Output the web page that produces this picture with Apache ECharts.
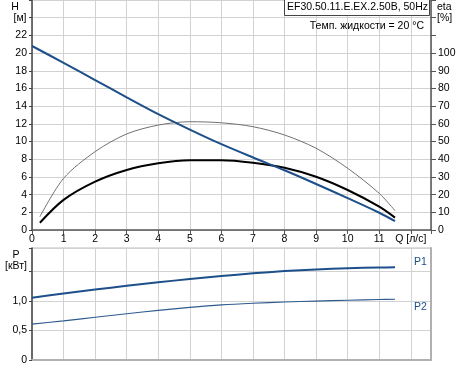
<!DOCTYPE html>
<html><head><meta charset="utf-8">
<script src="https://cdn.jsdelivr.net/npm/echarts@6/dist/echarts.min.js"></script>
<style>html,body{margin:0;padding:0;background:#fff}#c{width:459px;height:369px}</style>
</head><body><div id="c"></div>
<script>
// Flow Q [l/s]
var qH   = [0, 1, 2, 3, 4, 5, 6, 7, 8, 9, 10, 11, 11.5];
var headH = [20.8, 18.9, 16.95, 15.0, 13.1, 11.35, 9.7, 8.2, 6.75, 5.2, 3.6, 1.95, 1.0];
var qEta = [0.25, 1, 2, 3, 4, 5, 6, 7, 8, 9, 10, 11, 11.5];
var etaHyd = [7.5, 29.2, 44.3, 54.3, 59.3, 61.2, 60.6, 58.4, 53.7, 46.2, 34.9, 20.7, 10.9];
var etaTot = [4.1, 17.0, 27.3, 33.9, 37.7, 39.4, 39.4, 38.0, 35.2, 30.1, 22.6, 13.2, 7.0];
var qP = [0, 1, 2, 3, 4, 5, 6, 7, 8, 9, 10, 11, 11.5];
var p1 = [1.056, 1.128, 1.195, 1.258, 1.318, 1.374, 1.425, 1.470, 1.508, 1.537, 1.557, 1.569, 1.572];
var p2 = [0.61, 0.665, 0.725, 0.785, 0.842, 0.893, 0.935, 0.963, 0.984, 1.0, 1.014, 1.026, 1.031];
var xTicks = [0,1,2,3,4,5,6,7,8,9,10,11,'Q [л/с]'];
var hTicks = [0,2,4,6,8,10,12,14,16,18,20,22];
var etaTicks = [0,10,20,30,40,50,60,70,80,90,100];
var pTicks = {'0':'0','0.5':'0,5','1':'1,0'};

function zip(a,b){return a.map(function(v,i){return [v,b[i]];});}
var F = 'Liberation Sans, Arial, sans-serif';
var FS = 10.5;
var lab = {fontFamily:F, fontSize:FS, color:'#000'};
var gridLine = {show:true, lineStyle:{color:'#d2d2d2', width:1}};
var XMAX = 12.64;
var SM = 0.3;

var chart = echarts.init(document.getElementById('c'), null, {renderer:'canvas'});
chart.setOption({
  animation:false,
  grid:[
    {left:32, top:0, width:399, height:230},
    {left:32, top:248, width:399, height:112, show:true, borderColor:'#bdbdbd', borderWidth:1}
  ],
  xAxis:[
    {type:'value', gridIndex:0, min:0, max:XMAX, interval:1,
     axisLine:{lineStyle:{color:'#555', width:1.5}},
     axisTick:{show:true, length:4, lineStyle:{color:'#555'}},
     axisLabel:Object.assign({margin:4, formatter:function(v){
        if (v===12) return xTicks[12];
        return (Math.abs(v-Math.round(v))<1e-6 && v<12) ? String(xTicks[v]) : '';}}, lab),
     splitLine:gridLine},
    {type:'value', gridIndex:1, min:0, max:XMAX, interval:1,
     axisLine:{lineStyle:{color:'#b0b0b0', width:2}},
     axisTick:{show:false}, axisLabel:{show:false},
     splitLine:gridLine}
  ],
  yAxis:[
    {type:'value', gridIndex:0, min:0, max:26, interval:2,
     axisLine:{show:true, lineStyle:{color:'#444', width:1.5}},
     axisTick:{show:true, length:3, lineStyle:{color:'#444'}},
     axisLabel:Object.assign({margin:5, formatter:function(v){return hTicks.indexOf(v)>=0?String(v):'';}}, lab),
     splitLine:gridLine},
    {type:'value', gridIndex:0, position:'right', min:0, max:130, interval:10,
     axisLine:{show:true, lineStyle:{color:'#555', width:1.5}},
     axisTick:{show:true, length:5, lineStyle:{color:'#555'}},
     axisLabel:Object.assign({margin:7, formatter:function(v){return etaTicks.indexOf(v)>=0?String(v):'';}}, lab),
     splitLine:{show:false}},
    {type:'value', gridIndex:1, min:0, max:1.9, interval:0.5,
     axisLine:{show:true, lineStyle:{color:'#444', width:1.5}},
     axisTick:{show:true, length:3, lineStyle:{color:'#444'}},
     axisLabel:Object.assign({margin:5, formatter:function(v){return pTicks[String(v)]||'';}}, lab),
     splitLine:gridLine},
    {type:'value', gridIndex:1, position:'right', min:0, max:1.9, interval:0.5,
     axisLine:{show:true, lineStyle:{color:'#b0b0b0', width:2}},
     axisTick:{show:false}, axisLabel:{show:false}, splitLine:{show:false}}
  ],
  series:[
    {type:'line', xAxisIndex:0, yAxisIndex:1, data:zip(qEta, etaHyd), smooth:SM, symbol:'none',
     lineStyle:{color:'#707070', width:1}},
    {type:'line', xAxisIndex:0, yAxisIndex:1, data:zip(qEta, etaTot), smooth:SM, symbol:'none',
     lineStyle:{color:'#000', width:2}},
    {type:'line', xAxisIndex:0, yAxisIndex:0, data:zip(qH, headH), smooth:SM, symbol:'none',
     lineStyle:{color:'#1d4f8a', width:2}},
    {type:'line', xAxisIndex:1, yAxisIndex:2, data:zip(qP, p1), smooth:SM, symbol:'none',
     lineStyle:{color:'#1d4f8a', width:2}},
    {type:'line', xAxisIndex:1, yAxisIndex:2, data:zip(qP, p2), smooth:SM, symbol:'none',
     lineStyle:{color:'#2f5b8e', width:1.2}}
  ],
  graphic:[
    {type:'rect', shape:{x:284.5, y:-1, width:145, height:16.5}, style:{fill:'#fff', stroke:'#444', lineWidth:1}, z:100},
    {type:'text', x:357.5, y:7.5, style:{text:'EF30.50.11.E.EX.2.50B, 50Hz', font:FS+'px '+F, fill:'#000', align:'center', verticalAlign:'middle'}, z:101},
    {type:'text', x:424, y:26, style:{text:'Темп. жидкости = 20 °C', font:FS+'px '+F, fill:'#000', align:'right', verticalAlign:'middle'}, z:101},
    {type:'text', x:15, y:7, style:{text:'H', font:FS+'px '+F, fill:'#000', align:'center', verticalAlign:'middle'}},
    {type:'text', x:20, y:18.5, style:{text:'[м]', font:FS+'px '+F, fill:'#000', align:'center', verticalAlign:'middle'}},
    {type:'text', x:437, y:7, style:{text:'eta', font:FS+'px '+F, fill:'#000', align:'left', verticalAlign:'middle'}},
    {type:'text', x:437, y:18.5, style:{text:'[%]', font:FS+'px '+F, fill:'#000', align:'left', verticalAlign:'middle'}},
    {type:'text', x:16, y:255, style:{text:'P', font:FS+'px '+F, fill:'#000', align:'center', verticalAlign:'middle'}},
    {type:'text', x:16, y:266.5, style:{text:'[кВт]', font:FS+'px '+F, fill:'#000', align:'center', verticalAlign:'middle'}},
    {type:'text', x:414, y:262, style:{text:'P1', font:FS+'px '+F, fill:'#1d4f8a', align:'left', verticalAlign:'middle'}},
    {type:'text', x:414, y:307, style:{text:'P2', font:FS+'px '+F, fill:'#1d4f8a', align:'left', verticalAlign:'middle'}}
  ]
});
</script></body></html>
